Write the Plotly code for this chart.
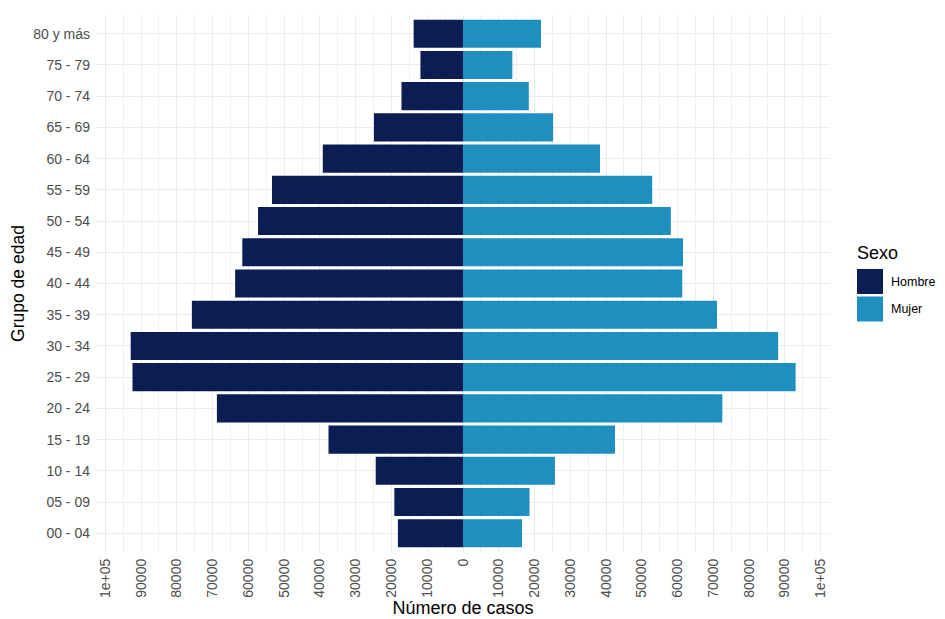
import plotly.graph_objects as go

grupos = ["00 - 04", "05 - 09", "10 - 14", "15 - 19", "20 - 24", "25 - 29",
          "30 - 34", "35 - 39", "40 - 44", "45 - 49", "50 - 54", "55 - 59",
          "60 - 64", "65 - 69", "70 - 74", "75 - 79", "80 y más"]

hombre = [18200, 19200, 24400, 37600, 68800, 92400, 92900, 75800, 63700,
          61700, 57300, 53400, 39200, 24900, 17200, 11900, 13800]
mujer = [16500, 18600, 25700, 42500, 72500, 93000, 88100, 71000, 61300,
         61500, 58100, 52900, 38300, 25200, 18400, 13800, 21800]

tick_vals = list(range(-100000, 100001, 10000))
tick_text = ["1e+05" if abs(v) == 100000 else str(abs(v)) for v in tick_vals]

COL_H = "#0b1d53"
COL_M = "#1f8fbf"
FONT = "Liberation Sans, Arial, sans-serif"

# the page body adds an 8px margin, so work in page pixels minus 8
OFF = 8
W, H = 945 - OFF, 619 - OFF
L, R, T, B = 96 - OFF, 830 - OFF, 15 - OFF, 552 - OFF

fig = go.Figure()

fig.add_trace(go.Bar(
    y=grupos, x=[-v for v in hombre], orientation="h", name="Hombre",
    marker=dict(color=COL_H, line=dict(width=0)), width=0.9,
    customdata=hombre, hovertemplate="%{y}: %{customdata}<extra>Hombre</extra>",
))
fig.add_trace(go.Bar(
    y=grupos, x=mujer, orientation="h", name="Mujer",
    marker=dict(color=COL_M, line=dict(width=0)), width=0.9,
    hovertemplate="%{y}: %{x}<extra>Mujer</extra>",
))

fig.update_xaxes(
    range=[-102600, 102600], tickvals=tick_vals, ticktext=tick_text,
    tickangle=-90, tickfont=dict(size=14, color="#4d4d4d"),
    showgrid=True, gridcolor="#ebebeb", gridwidth=1.1, zeroline=False,
    minor=dict(tickvals=list(range(-95000, 100000, 10000)),
               showgrid=True, gridcolor="#f0f0f0", gridwidth=0.7),
    title=dict(text="Número de casos", font=dict(size=18, color="#000"), standoff=4),
    ticks="", ticklabelstandoff=3, automargin=False,
)
fig.update_yaxes(
    categoryorder="array", categoryarray=grupos, range=[-0.6, 16.6],
    tickfont=dict(size=14, color="#4d4d4d"),
    showgrid=True, gridcolor="#ebebeb", gridwidth=1.1, zeroline=False,
    title=dict(text="Grupo de edad", font=dict(size=17.5, color="#000"), standoff=6),
    ticks="", ticklabelstandoff=5, automargin=False,
)

fig.update_layout(
    width=W, height=H,
    margin=dict(l=L, r=W - R, t=T, b=H - B),
    barmode="overlay", showlegend=False,
    plot_bgcolor="white", paper_bgcolor="white",
    font=dict(family=FONT),
)


def px(x):
    return (x - OFF - L) / (R - L)


def py(y):
    return 1 - (y - OFF - T) / (B - T)


# leyenda estilo ggplot
fig.add_annotation(x=px(855), y=py(253), xref="paper", yref="paper", text="Sexo",
                   showarrow=False, xanchor="left", yanchor="middle",
                   font=dict(size=18, color="#000"))
legend_items = [("Hombre", COL_H, 281.5), ("Mujer", COL_M, 309)]
for label, col, yc in legend_items:
    fig.add_shape(type="rect", xref="paper", yref="paper",
                  x0=px(857), x1=px(883), y0=py(yc - 12.5), y1=py(yc + 12.5),
                  fillcolor=col, line=dict(width=0))
    fig.add_annotation(x=px(889), y=py(yc), xref="paper", yref="paper", text=label,
                       showarrow=False, xanchor="left", yanchor="middle",
                       font=dict(size=12.5, color="#000"))

fig.write_html("out.html")
